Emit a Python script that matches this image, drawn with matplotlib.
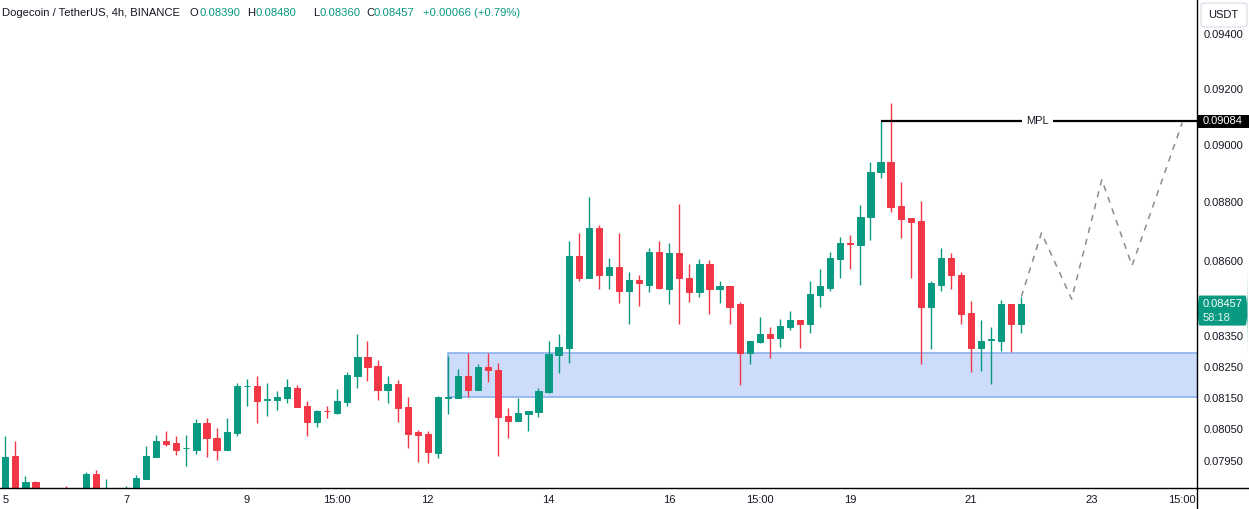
import numpy as np
import matplotlib
matplotlib.use("Agg")
import matplotlib.pyplot as plt
import matplotlib.transforms as mtransforms
from matplotlib.patches import Rectangle, FancyBboxPatch
from matplotlib.lines import Line2D
from matplotlib.ticker import FixedLocator, NullLocator, NullFormatter, FuncFormatter

# DOGE/USDT 4h candles
opens = [0.07840, 0.07966, 0.07850, 0.07885, 0.07860, 0.07790, 0.07850, 0.07810, 0.07850, 0.07909,
         0.07820, 0.07860, 0.07830, 0.07860, 0.07895, 0.07963, 0.08013, 0.08007, 0.07989, 0.07983,
         0.08070, 0.08023, 0.07983, 0.08039, 0.08186, 0.08188, 0.08144, 0.08144, 0.08150, 0.08182,
         0.08124, 0.08073, 0.08109, 0.08102, 0.08137, 0.08221, 0.08282, 0.08253, 0.08175, 0.08195,
         0.08121, 0.08042, 0.08035, 0.07976, 0.08150, 0.08150, 0.08221, 0.08175, 0.08250, 0.08240,
         0.08092, 0.08077, 0.08099, 0.08105, 0.08169, 0.08289, 0.08311, 0.08618, 0.08544, 0.08713,
         0.08551, 0.08578, 0.08500, 0.08537, 0.08520, 0.08631, 0.08507, 0.08628, 0.08544, 0.08494,
         0.08588, 0.08504, 0.08514, 0.08454, 0.08295, 0.08331, 0.08355, 0.08345, 0.08378, 0.08401,
         0.08388, 0.08487, 0.08510, 0.08608, 0.08660, 0.08655, 0.08748, 0.08904, 0.08939, 0.08788,
         0.08747, 0.08737, 0.08447, 0.08520, 0.08611, 0.08554, 0.08427, 0.08311, 0.08336, 0.08335,
         0.08454, 0.08390]
highs = [0.08029, 0.08013, 0.07904, 0.07888, 0.07862, 0.07850, 0.07872, 0.07860, 0.07917, 0.07922,
         0.07894, 0.07862, 0.07872, 0.07907, 0.07998, 0.08032, 0.08045, 0.08029, 0.08032, 0.08083,
         0.08086, 0.08055, 0.08086, 0.08198, 0.08211, 0.08221, 0.08198, 0.08172, 0.08211, 0.08192,
         0.08140, 0.08111, 0.08124, 0.08179, 0.08234, 0.08358, 0.08335, 0.08273, 0.08221, 0.08208,
         0.08153, 0.08048, 0.08045, 0.08156, 0.08286, 0.08243, 0.08295, 0.08260, 0.08295, 0.08263,
         0.08118, 0.08150, 0.08108, 0.08182, 0.08335, 0.08358, 0.08666, 0.08696, 0.08819, 0.08723,
         0.08611, 0.08693, 0.08561, 0.08551, 0.08645, 0.08666, 0.08662, 0.08795, 0.08591, 0.08608,
         0.08604, 0.08531, 0.08517, 0.08463, 0.08335, 0.08414, 0.08378, 0.08407, 0.08434, 0.08404,
         0.08531, 0.08571, 0.08631, 0.08682, 0.08689, 0.08792, 0.08942, 0.09084, 0.09152, 0.08872,
         0.08747, 0.08805, 0.08531, 0.08645, 0.08625, 0.08561, 0.08467, 0.08404, 0.08378, 0.08470,
         0.08457, 0.08480]
lows = [0.07820, 0.07810, 0.07830, 0.07830, 0.07780, 0.07750, 0.07780, 0.07790, 0.07820, 0.07820,
        0.07790, 0.07800, 0.07800, 0.07830, 0.07893, 0.07963, 0.07996, 0.07969, 0.07935, 0.07972,
        0.07963, 0.07954, 0.07983, 0.08027, 0.08124, 0.08070, 0.08092, 0.08112, 0.08134, 0.08121,
        0.08029, 0.08058, 0.08086, 0.08099, 0.08124, 0.08182, 0.08205, 0.08143, 0.08134, 0.08073,
        0.07991, 0.07947, 0.07944, 0.07960, 0.08099, 0.08150, 0.08153, 0.08175, 0.08199, 0.07966,
        0.08023, 0.08077, 0.08045, 0.08089, 0.08166, 0.08230, 0.08263, 0.08531, 0.08544, 0.08507,
        0.08507, 0.08460, 0.08391, 0.08450, 0.08494, 0.08504, 0.08457, 0.08391, 0.08463, 0.08480,
        0.08424, 0.08460, 0.08388, 0.08192, 0.08260, 0.08328, 0.08279, 0.08315, 0.08371, 0.08312,
        0.08361, 0.08447, 0.08500, 0.08544, 0.08571, 0.08520, 0.08672, 0.08883, 0.08768, 0.08679,
        0.08541, 0.08260, 0.08308, 0.08500, 0.08504, 0.08391, 0.08234, 0.08237, 0.08195, 0.08302,
        0.08299, 0.08360]
closes = [0.07963, 0.07830, 0.07885, 0.07860, 0.07790, 0.07820, 0.07810, 0.07840, 0.07909, 0.07850,
          0.07860, 0.07830, 0.07860, 0.07897, 0.07966, 0.08013, 0.08004, 0.07983, 0.07990, 0.08070,
          0.08021, 0.07983, 0.08042, 0.08188, 0.08187, 0.08140, 0.08146, 0.08152, 0.08185, 0.08121,
          0.08073, 0.08108, 0.08107, 0.08140, 0.08224, 0.08282, 0.08250, 0.08175, 0.08195, 0.08118,
          0.08035, 0.08032, 0.07979, 0.08153, 0.08151, 0.08221, 0.08175, 0.08250, 0.08238, 0.08089,
          0.08077, 0.08102, 0.08108, 0.08172, 0.08292, 0.08315, 0.08618, 0.08544, 0.08713, 0.08551,
          0.08578, 0.08500, 0.08537, 0.08524, 0.08631, 0.08510, 0.08628, 0.08541, 0.08494, 0.08588,
          0.08504, 0.08517, 0.08447, 0.08295, 0.08335, 0.08355, 0.08345, 0.08384, 0.08401, 0.08388,
          0.08490, 0.08514, 0.08611, 0.08662, 0.08657, 0.08751, 0.08907, 0.08939, 0.08785, 0.08744,
          0.08734, 0.08447, 0.08527, 0.08611, 0.08551, 0.08424, 0.08311, 0.08335, 0.08339, 0.08454,
          0.08388, 0.08457]

# x tick labels (candle index -> label)
xtick_pos = [0, 12, 24, 33, 42, 54, 66, 75, 84, 96, 108, 117]
xtick_labels = ["5", "7", "9", "15:00", "12", "14", "16", "15:00", "19", "21", "23", "15:00"]
ytick_vals = [0.094, 0.092, 0.090, 0.088, 0.086, 0.0835, 0.0825, 0.0815, 0.0805, 0.0795]

# demand zone and MPL level
zone_start = 44
zone_top = 0.08294
zone_bottom = 0.08152
mpl_start = 87
mpl_level = 0.09084
last_price = 0.08457

# projected path (dashed)
proj_x = [101, 103, 106, 109, 112, 117]
proj_y = [0.08480, 0.08695, 0.08472, 0.08879, 0.08584, 0.09080]

GREEN = "#089981"
RED = "#f23645"
DARK = "#131722"
FONT = "Liberation Sans"

W, H = 1249, 509
fig = plt.figure(figsize=(W / 100, H / 100), dpi=100)
ax = fig.add_axes([0, 21 / H, 1197 / W, 488 / H])

o = np.array(opens)
c = np.array(closes)
hi = np.array(highs)
lo = np.array(lows)
idx = np.arange(len(o))
cols = [GREEN if cc >= oo else RED for oo, cc in zip(o, c)]

# demand zone
ax.add_patch(Rectangle((zone_start, zone_bottom), 200, zone_top - zone_bottom,
                       facecolor="#cddcfb", edgecolor="#8cb0ee", linewidth=1.2, zorder=1))

# candles
ax.vlines(idx, lo, hi, colors=cols, linewidth=1.0, zorder=3)
ax.bar(idx, np.abs(c - o), bottom=np.minimum(o, c), width=0.62, color=cols,
       edgecolor=cols, linewidth=0.7, zorder=4)

# MPL line
ax.hlines(mpl_level, mpl_start, 200, colors="black", linewidth=1.6, zorder=5)
ax.text(102.6, mpl_level, "MPL", ha="center", va="center", fontsize=8, family=FONT,
        color=DARK, zorder=6,
        bbox=dict(boxstyle="square,pad=0.35", facecolor="white", edgecolor="none"))

# projection
ax.plot(proj_x, proj_y, color="#8c8c8c", linewidth=1.1, dashes=(4, 4), zorder=5)

ax.set_yscale("log")
ax.set_ylim(0.07866, 0.09528)
ax.set_xlim(-0.527, 118.46)

ax.yaxis.set_major_locator(FixedLocator(ytick_vals))
ax.yaxis.set_minor_locator(NullLocator())
ax.yaxis.set_minor_formatter(NullFormatter())
ax.yaxis.set_major_formatter(FuncFormatter(lambda v, p: f"{v:.5f}"))
ax.yaxis.tick_right()
ax.set_xticks(xtick_pos)
ax.set_xticklabels(xtick_labels)
ax.tick_params(axis="both", length=0, labelsize=8, labelcolor=DARK)
ax.tick_params(axis="y", pad=5)
ax.tick_params(axis="x", pad=5)
for lab in ax.get_xticklabels() + ax.get_yticklabels():
    lab.set_family(FONT)

for s in ["top", "left"]:
    ax.spines[s].set_visible(False)
for s in ["right", "bottom"]:
    ax.spines[s].set_color("black")
    ax.spines[s].set_linewidth(1.0)
    ax.spines[s].set_zorder(8)

# axis lines continue into the corner
fig.add_artist(Line2D([1197 / W, 1197 / W], [0, 21 / H], color="black", linewidth=1.0))
fig.add_artist(Line2D([1197 / W, 1], [21 / H, 21 / H], color="black", linewidth=1.0))

# price tags on the scale: box in figure-x / data-y
tag = mtransforms.blended_transform_factory(fig.transFigure, ax.transData)
ax.add_patch(Rectangle((1197 / W, mpl_level / 1.0027), 52 / W, mpl_level * (1.0027 - 1 / 1.0027),
                       transform=tag, facecolor="black", edgecolor="none", clip_on=False, zorder=7))
fig.text(1203 / W, 0, f"{mpl_level:.5f}", transform=tag, ha="left", va="center",
         fontsize=8, family=FONT, color="white", zorder=8).set_y(mpl_level)

g_lo = last_price * np.exp(-22 / 2543)
g_hi = last_price * np.exp(8 / 2543)
ax.add_patch(FancyBboxPatch((1197 / W, g_lo), 51 / W, g_hi - g_lo, transform=tag,
                            boxstyle="round,pad=0,rounding_size=0.002",
                            mutation_aspect=1, facecolor=GREEN, edgecolor="none",
                            clip_on=False, zorder=7))
ax.annotate(f"{last_price:.5f}", xy=(1203 / W, last_price), xycoords=tag,
            ha="left", va="center", fontsize=8, family=FONT, color="white",
            annotation_clip=False, zorder=8)
ax.annotate("58:18", xy=(1203 / W, last_price), xycoords=tag, xytext=(0, -10.3),
            textcoords="offset points", ha="left", va="center", fontsize=8, family=FONT,
            color="#e6f5f2", annotation_clip=False, zorder=8)

fig.patches.append(FancyBboxPatch((1201 / W, 1 - 27 / H), 46 / W, 24 / H,
                                  boxstyle="round,pad=0,rounding_size=0.004",
                                  transform=fig.transFigure, facecolor="white",
                                  edgecolor="#e0e3eb", linewidth=1.0))
fig.text(1223 / W, 1 - 15 / H, "USDT", ha="center", va="center", fontsize=8, family=FONT,
         color=DARK)

# header
header = [("Dogecoin / TetherUS, 4h, BINANCE", 2, DARK), ("O", 189, DARK), ("0.08390", 199, GREEN),
          ("H", 247, DARK), ("0.08480", 256, GREEN), ("L", 313, DARK), ("0.08360", 319, GREEN),
          ("C", 366, DARK), ("0.08457", 374, GREEN), ("+0.00066 (+0.79%)", 423, GREEN)]
for txt, px, col in header:
    fig.text(px / W, 1 - 13 / H, txt, ha="left", va="center", fontsize=8.1, family=FONT, color=col)

fig.savefig("out.png", dpi=100, facecolor="white")
